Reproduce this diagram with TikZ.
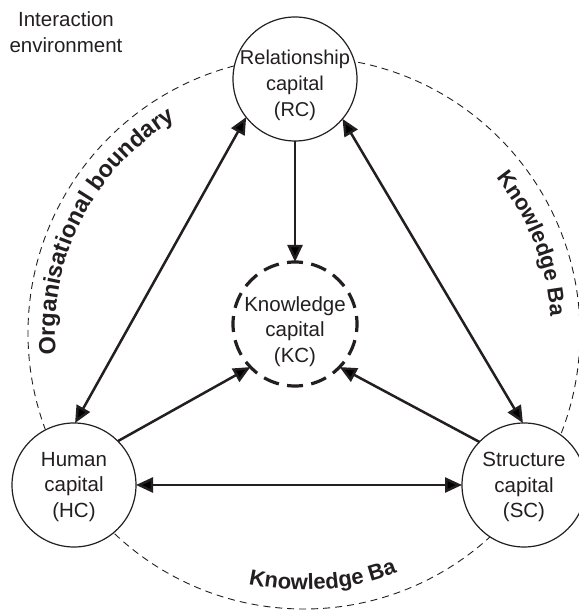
\documentclass[tikz,border=0pt]{standalone}
\usepackage{fontspec}
\setmainfont{Liberation Sans}
\usetikzlibrary{arrows.meta,decorations.text}
\definecolor{ink}{RGB}{35,31,32}
\begin{document}
\begin{tikzpicture}[x=1pt,y=1pt,
  capital/.style={circle,draw=ink,line width=1.2pt,fill=white,minimum size=124pt,inner sep=0pt,outer sep=0pt},
  core/.style={circle,draw=ink,line width=3.2pt,dash pattern=on 16pt off 8.35pt,dash phase=8pt,fill=white,minimum size=124pt,inner sep=0pt,outer sep=0pt},
  caption/.style={align=center,text=ink,font=\fontsize{20.5}{25.5}\selectfont,inner sep=0pt},
  tip/.style={Triangle[length=17pt,width=15pt]},
  link/.style={draw=ink,line width=2.5pt,-{Triangle[length=17pt,width=15pt]}},
  both/.style={link,{Triangle[length=17pt,width=15pt]}-{Triangle[length=17pt,width=15pt]}},
  arclabel/.style 2 args={decorate,decoration={text along path,text align=left,text color=ink,
    text={|\bfseries\fontsize{#1}{26}\selectfont|#2}}}
]
\useasboundingbox (0,0) rectangle (578,610);

% organisational boundary
\coordinate (hub) at (304,277);
\draw[ink,line width=0.9pt,dash pattern=on 7pt off 5pt] (hub) circle[radius=276];

% labels along the boundary
\path[arclabel={23.5}{Organisational boundary}] (hub) ++(185:249) arc[start angle=185,end angle=100,radius=249];
\path[arclabel={22}{Knowledge Ba}] (hub) ++(39:247) arc[start angle=39,end angle=-15,radius=247];
\path[arclabel={22}{Knowledge Ba}] (hub) ++(257.5:257) arc[start angle=257.5,end angle=305,radius=257];

% the four capitals
\node[capital] (rc) at (295,531) {};
\node[core]    (kc) at (295,286) {};
\node[capital] (hc) at (74,125) {};
\node[capital] (sc) at (524,125) {};

\node[caption,font=\fontsize{20}{26}\selectfont] (rc-text) at (295,524.2) {Relationship\\capital\\(RC)};
\node[caption] (kc-text) at (295,278.4) {Knowledge\\capital\\(KC)};
\node[caption] (hc-text) at (74,123) {Human\\capital\\(HC)};
\node[caption] (sc-text) at (524,123) {Structure\\capital\\(SC)};

\node[caption,font=\fontsize{20.5}{26}\selectfont] (env) at (66,577.5) {Interaction\\environment};

% flows between the capitals
\draw[link] (rc.south) -- (kc.north);
\draw[both] (hc.89) -- (rc.218);
\draw[both] (sc.91) -- (rc.320);
\draw[link] (hc.45) -- (kc.224);
\draw[link] (sc.136) -- (kc.316);
\draw[both] (hc.east) -- (sc.west);
\end{tikzpicture}
\end{document}
